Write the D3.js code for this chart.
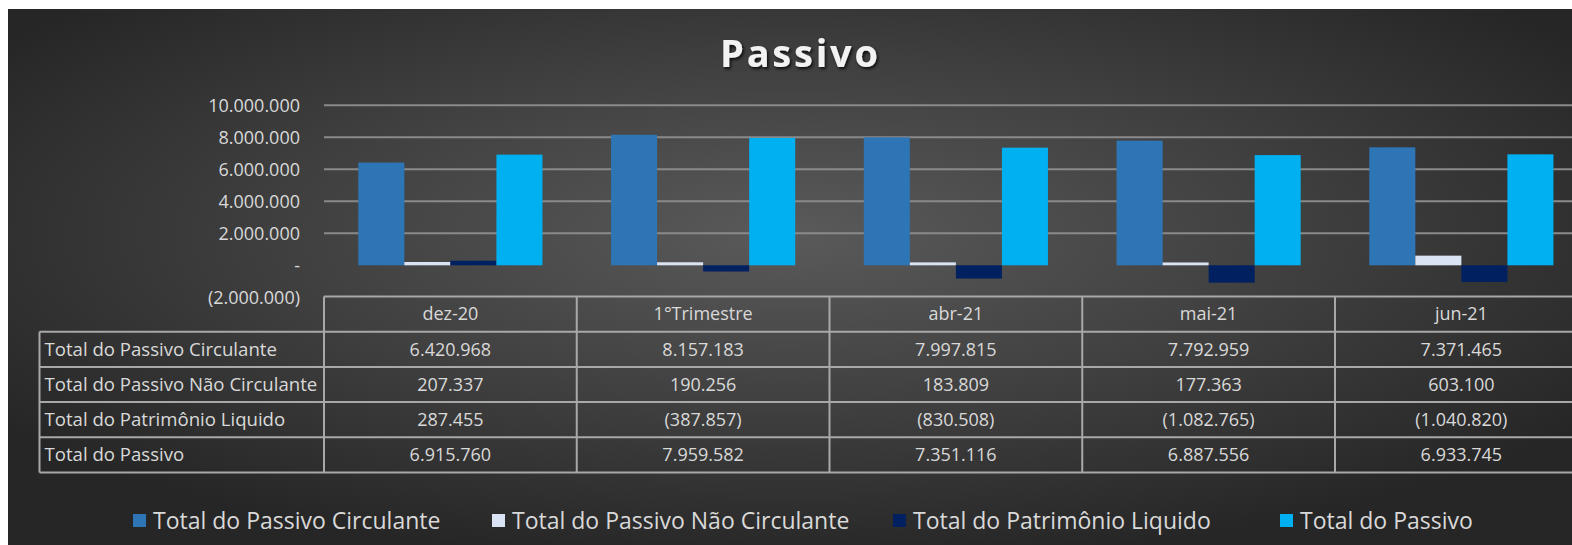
<!DOCTYPE html>
<html>
<head>
<meta charset="utf-8">
<script src="https://cdn.jsdelivr.net/npm/d3@7"></script>
<style>
  body { margin: 0; background: #fff; }
  text { font-family: "Open Sans", sans-serif; }
</style>
</head>
<body>
<div id="vis"><svg></svg></div>
<script>

// chart values
const categories = ["dez-20", "1°Trimestre", "abr-21", "mai-21", "jun-21"];
const seriesNames = ["Total do Passivo Circulante", "Total do Passivo Não Circulante", "Total do Patrimônio Liquido", "Total do Passivo"];
const circulante = [6420968, 8157183, 7997815, 7792959, 7371465];
const naoCirculante = [207337, 190256, 183809, 177363, 603100];
const patrimonio = [287455, -387857, -830508, -1082765, -1040820];
const totalPassivo = [6915760, 7959582, 7351116, 6887556, 6933745];
const yTicks = [-2000000, 0, 2000000, 4000000, 6000000, 8000000, 10000000];
const seriesColors = ["#2e75b6", "#dae3f3", "#002060", "#00b0f0"];

const seriesValues = [circulante, naoCirculante, patrimonio, totalPassivo];

var width = 1572, height = 545;

var svg = d3.select("#vis").select("svg")
  .attr("width", width)
  .attr("height", height);

// background
const defs = svg.append("defs");
const grad = defs.append("radialGradient")
  .attr("id", "bg")
  .attr("cx", "50%").attr("cy", "42%").attr("r", "62%")
  .attr("fx", "50%").attr("fy", "42%");
grad.append("stop").attr("offset", "0%").attr("stop-color", "#5a5a5a");
grad.append("stop").attr("offset", "55%").attr("stop-color", "#3e3e3e");
grad.append("stop").attr("offset", "100%").attr("stop-color", "#262626");

const shadow = defs.append("filter").attr("id", "shadow")
  .attr("x", "-10%").attr("y", "-20%").attr("width", "130%").attr("height", "150%");
shadow.append("feDropShadow")
  .attr("dx", 1.5).attr("dy", 2).attr("stdDeviation", 1.5)
  .attr("flood-color", "#000").attr("flood-opacity", 0.8);

svg.append("rect")
  .attr("x", 8).attr("y", 9)
  .attr("width", width - 8).attr("height", height - 9)
  .attr("fill", "url(#bg)");

// title
svg.append("text")
  .attr("x", 799).attr("y", 67)
  .attr("text-anchor", "middle")
  .attr("fill", "#f2f2f2")
  .attr("font-size", "38px")
  .attr("font-weight", "bold")
  .attr("textLength", 158)
  .attr("lengthAdjust", "spacing")
  .attr("filter", "url(#shadow)")
  .text("Passivo");

// scales
const plotLeft = 324, catWidth = 252.75;
const x0 = d3.scaleBand()
  .domain(categories)
  .range([plotLeft, plotLeft + catWidth * categories.length]);
const x1 = d3.scaleBand()
  .domain(seriesNames)
  .range([0, x0.bandwidth()])
  .paddingOuter(0.745);
const y = d3.scaleLinear()
  .domain([-2000000, 10000000])
  .range([297.3, 105.3]);

const f = d3.formatLocale({decimal: ",", thousands: ".", grouping: [3], currency: ["R$", ""]}).format(",d");
const fmt = v => v < 0 ? "(" + f(-v) + ")" : (v === 0 ? "-" : f(v));

// gridlines (the -2M line is the table top)
svg.append("g")
  .selectAll("line")
  .data(yTicks.filter(d => d > 0))
  .join("line")
  .attr("x1", plotLeft).attr("x2", width)
  .attr("y1", d => y(d)).attr("y2", d => y(d))
  .attr("stroke", "#8a8a8a")
  .attr("stroke-width", 2);

// y-axis labels
const yAxisG = svg.append("g")
  .attr("transform", "translate(" + (plotLeft - 14) + ",0)")
  .call(d3.axisLeft(y).tickValues(yTicks).tickFormat(fmt).tickSize(0).tickPadding(10));
yAxisG.select(".domain").remove();
yAxisG.selectAll("text")
  .attr("fill", "#d9d9d9")
  .attr("font-size", "18px")
  .attr("font-family", "'Open Sans', sans-serif");

// bars
const barData = [];
categories.forEach((c, i) => {
  seriesNames.forEach((s, j) => {
    barData.push({cat: c, series: s, value: seriesValues[j][i], color: seriesColors[j]});
  });
});

svg.append("g")
  .selectAll("rect")
  .data(barData)
  .join("rect")
  .attr("x", d => x0(d.cat) + x1(d.series))
  .attr("width", x1.bandwidth())
  .attr("y", d => y(Math.max(0, d.value)))
  .attr("height", d => Math.abs(y(d.value) - y(0)))
  .attr("fill", d => d.color);

// data table
const headTop = 296.5, rowH = 35.2, labelLeft = 39.5;
const table = svg.append("g");
const lineColor = "#a8a8a8";

const hLines = [headTop];
for (let r = 0; r <= seriesNames.length; r++) hLines.push(headTop + rowH * (r + 1));

table.selectAll("line.h")
  .data(hLines)
  .join("line")
  .attr("class", "h")
  .attr("x1", (d, i) => i === 0 ? plotLeft : labelLeft)
  .attr("x2", width + 10)
  .attr("y1", d => d).attr("y2", d => d)
  .attr("stroke", lineColor).attr("stroke-width", 2);

const vBounds = categories.map(c => x0(c)).concat([x0.range()[1]]);
table.selectAll("line.v")
  .data(vBounds)
  .join("line")
  .attr("class", "v")
  .attr("x1", d => d).attr("x2", d => d)
  .attr("y1", headTop)
  .attr("y2", hLines[hLines.length - 1])
  .attr("stroke", lineColor).attr("stroke-width", 2);

table.append("line")
  .attr("x1", labelLeft).attr("x2", labelLeft)
  .attr("y1", hLines[1]).attr("y2", hLines[hLines.length - 1])
  .attr("stroke", lineColor).attr("stroke-width", 2);

// header
table.selectAll("text.head")
  .data(categories)
  .join("text")
  .attr("class", "head")
  .attr("x", d => x0(d) + x0.bandwidth() / 2)
  .attr("y", headTop + rowH / 2)
  .attr("dy", "0.35em")
  .attr("text-anchor", "middle")
  .attr("fill", "#d9d9d9")
  .attr("font-size", "18px")
  .text(d => d);

// row labels + values
seriesNames.forEach((s, j) => {
  const rowY = headTop + rowH * (j + 1) + rowH / 2;
  table.append("text")
    .attr("x", labelLeft + 5)
    .attr("y", rowY)
    .attr("dy", "0.35em")
    .attr("fill", "#d9d9d9")
    .attr("font-size", "18.6px")
    .text(s);
  table.append("g")
    .selectAll("text")
    .data(seriesValues[j])
    .join("text")
    .attr("x", (d, i) => x0(categories[i]) + x0.bandwidth() / 2)
    .attr("y", rowY)
    .attr("dy", "0.35em")
    .attr("text-anchor", "middle")
    .attr("fill", "#d9d9d9")
    .attr("font-size", "18px")
    .text(d => fmt(d));
});

// legend (entry positions as laid out in the original)
const legendX = [133, 492, 893, 1280];
const legend = svg.append("g");
seriesNames.forEach((s, j) => {
  legend.append("rect")
    .attr("x", legendX[j]).attr("y", 514)
    .attr("width", 13).attr("height", 13)
    .attr("fill", seriesColors[j]);
  legend.append("text")
    .attr("x", legendX[j] + 20)
    .attr("y", 520.5)
    .attr("dy", "0.35em")
    .attr("fill", "#d9d9d9")
    .attr("font-size", "23px")
    .text(s);
});

</script>
</body>
</html>
